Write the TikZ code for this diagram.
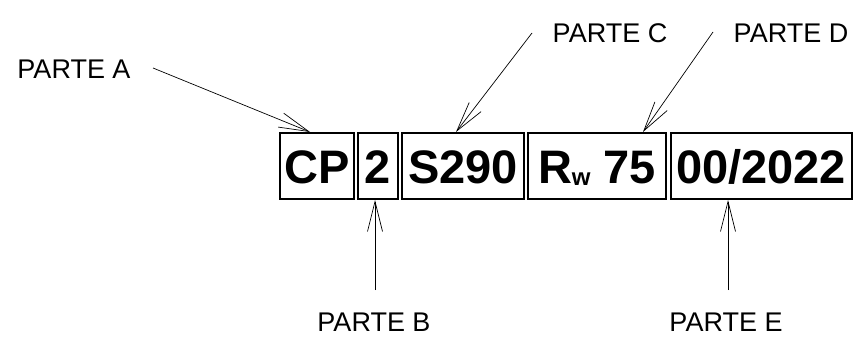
\documentclass[tikz,border=0pt]{standalone}
\usepackage{fontspec}
\setmainfont{Liberation Sans}
\usetikzlibrary{arrows.meta}
\tikzset{
  box/.style={draw, line width=2pt, inner sep=0pt, minimum height=66pt,
    text height=34pt, text depth=0pt, font=\fontsize{47}{47}\selectfont\bfseries},
  lbl/.style={inner sep=0pt, anchor=base, font=\fontsize{27}{27}\selectfont},
  arr/.style={line width=0.7pt, -{Straight Barb[length=30pt,width=15pt,line width=0.7pt]}},
}
\begin{document}
\begin{tikzpicture}[x=1pt,y=-1pt]
\useasboundingbox (0,0) rectangle (854,337);
\node[box, minimum width=74pt]  (b1) at (317,166) {CP};
\node[box, minimum width=40pt]  (b2) at (378,166) {2};
\node[box, minimum width=122pt] (b3) at (463,166) {S290};
\node[box, minimum width=138pt] (b4) at (597,166) {R{\fontsize{24}{24}\selectfont\raisebox{-2pt}{w}} 75};
\node[box, minimum width=181pt] (b5) at (761,166) {00/2022};
\node[lbl] (lA) at (74,78) {PARTE A};
\node[lbl] (lC) at (610,43) {PARTE C};
\node[lbl] (lD) at (791,43) {PARTE D};
\node[lbl] (lB) at (374,331) {PARTE B};
\node[lbl] (lE) at (726,331) {PARTE E};
\coordinate (sA) at (153,68);
\coordinate (sC) at (532,33);
\coordinate (sD) at (713,32);
\coordinate (sB) at (375,290);
\coordinate (sE) at (728,290);
\draw[arr] (sA) -- (b1.north -| 310,0);
\draw[arr] (sC) -- (b3.north -| 456,0);
\draw[arr] (sD) -- (b4.north -| 643,0);
\draw[arr] (sB) -- (b2.south -| 375,0);
\draw[arr] (sE) -- (b5.south -| 728,0);
\end{tikzpicture}
\end{document}
